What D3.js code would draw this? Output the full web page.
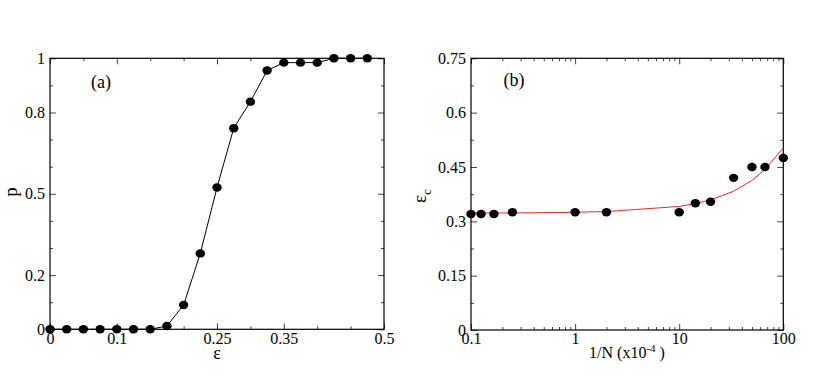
<!DOCTYPE html>
<html>
<head>
<meta charset="utf-8">
<script src="https://cdn.jsdelivr.net/npm/d3@7.9.0/dist/d3.min.js"></script>
<style>
  body { margin: 0; background: #fff; }
  svg { display: block; }
  .tick line { stroke: #444; }
</style>
</head>
<body>
<svg id="chart" width="830" height="388" font-family="'Liberation Serif', 'Times New Roman', Times, serif"></svg>
<script>
// panel (a): probability p vs epsilon
const epsA = [0, 0.025, 0.05, 0.075, 0.1, 0.125, 0.15, 0.175, 0.2, 0.225,
              0.25, 0.275, 0.3, 0.325, 0.35, 0.375, 0.4, 0.425, 0.45, 0.475];
const pA = [0, 0, 0, 0, 0, 0, 0, 0.012, 0.09, 0.28,
            0.523, 0.742, 0.84, 0.955, 0.984, 0.984, 0.984, 1, 1, 1];
const xTicksA = [0, 0.1, 0.25, 0.35, 0.5];
const xMinorA = [0.05, 0.15, 0.2, 0.3, 0.4, 0.45];
const yTicksA = [0, 0.2, 0.5, 0.8, 1];
const yMinorA = [0.1, 0.3, 0.4, 0.6, 0.7, 0.9];

// panel (b): critical epsilon vs 1/N (x10^-4)
const invN = [0.1, 0.125, 0.166, 0.25, 1, 2, 10, 14.3, 20, 33.3, 50, 66.7, 100];
const epsC = [0.32, 0.32, 0.32, 0.325, 0.325, 0.325, 0.325, 0.35, 0.354, 0.42, 0.45, 0.45, 0.475];
const fitC = [0.323, 0.323, 0.323, 0.323, 0.325, 0.327, 0.341, 0.349, 0.359, 0.383, 0.413, 0.443, 0.503];
const xTicksB = [0.1, 1, 10, 100];
const xMinorB = [0.2, 0.3, 0.4, 0.5, 0.6, 0.7, 0.8, 0.9, 2, 3, 4, 5, 6, 7, 8, 9, 20, 30, 40, 50, 60, 70, 80, 90];
const yTicksB = [0, 0.15, 0.3, 0.45, 0.6, 0.75];
const yMinorB = [0.075, 0.225, 0.375, 0.525, 0.675];

const SERIF = "'Liberation Serif', 'Times New Roman', Times, serif";
const svg = d3.select('#chart');

function frame(g, x, y, opts) {
  const [x0, x1] = x.range();
  const [y0, y1] = y.range();
  const fmt = d => String(d);

  // major ticks with labels, bottom / left
  g.append('g')
    .attr('transform', `translate(0,${y0})`)
    .call(d3.axisBottom(x).tickValues(opts.xTicks).tickSize(-6).tickPadding(3).tickFormat(fmt))
    .call(a => a.select('.domain').remove())
    .call(a => a.attr('font-family', SERIF).attr('font-size', 16));
  g.append('g')
    .attr('transform', `translate(${x0},0)`)
    .call(d3.axisLeft(y).tickValues(opts.yTicks).tickSize(-6).tickPadding(5).tickFormat(fmt))
    .call(a => a.select('.domain').remove())
    .call(a => a.attr('font-family', SERIF).attr('font-size', 16));

  // minor ticks and mirrored ticks on top / right
  const add = (axis, tx, ty) => g.append('g')
    .attr('transform', `translate(${tx},${ty})`)
    .call(axis.tickFormat(''))
    .call(a => a.select('.domain').remove());
  add(d3.axisBottom(x).tickValues(opts.xMinor).tickSize(-3), 0, y0);
  add(d3.axisLeft(y).tickValues(opts.yMinor).tickSize(-3), x0, 0);
  add(d3.axisTop(x).tickValues(opts.xTicks).tickSize(-6), 0, y1);
  add(d3.axisTop(x).tickValues(opts.xMinor).tickSize(-3), 0, y1);
  add(d3.axisRight(y).tickValues(opts.yTicks).tickSize(-6), x1, 0);
  add(d3.axisRight(y).tickValues(opts.yMinor).tickSize(-3), x1, 0);

  g.append('rect')
    .attr('x', x0).attr('y', y1)
    .attr('width', x1 - x0).attr('height', y0 - y1)
    .attr('fill', 'none').attr('stroke', '#000').attr('stroke-width', 1.2);
}

// ---- panel (a)
const xA = d3.scaleLinear().domain([0, 0.5]).range([50, 384]);
const yA = d3.scaleLinear().domain([0, 1]).range([329.3, 58.3]);
const gA = svg.append('g');
frame(gA, xA, yA, { xTicks: xTicksA, xMinor: xMinorA, yTicks: yTicksA, yMinor: yMinorA });

const ptsA = epsA.map((e, i) => [e, pA[i]]);
gA.append('path')
  .datum(ptsA)
  .attr('fill', 'none').attr('stroke', '#000').attr('stroke-width', 1)
  .attr('d', d3.line().x(d => xA(d[0])).y(d => yA(d[1])));
gA.append('g').selectAll('ellipse')
  .data(ptsA)
  .join('ellipse')
  .attr('cx', d => xA(d[0])).attr('cy', d => yA(d[1]))
  .attr('rx', 4.7).attr('ry', 4.2).attr('fill', '#000');

gA.append('text').attr('x', 101).attr('y', 88).attr('text-anchor', 'middle')
  .attr('font-size', 18).text('(a)');
gA.append('text').attr('x', 217).attr('y', 359).attr('text-anchor', 'middle')
  .attr('font-size', 18).text('ε');
gA.append('text').attr('transform', 'translate(17,192) rotate(-90)')
  .attr('text-anchor', 'middle').attr('font-size', 19).text('p');

// ---- panel (b)
const xB = d3.scaleLog().domain([0.1, 100]).range([471, 783.3]);
const yB = d3.scaleLinear().domain([0, 0.75]).range([330, 58.3]);
const gB = svg.append('g');
frame(gB, xB, yB, { xTicks: xTicksB, xMinor: xMinorB, yTicks: yTicksB, yMinor: yMinorB });

gB.append('path')
  .datum(invN.map((v, i) => [v, fitC[i]]))
  .attr('fill', 'none').attr('stroke', '#ff2020').attr('stroke-width', 1)
  .attr('d', d3.line().x(d => xB(d[0])).y(d => yB(d[1])));
gB.append('g').selectAll('ellipse')
  .data(invN.map((v, i) => [v, epsC[i]]))
  .join('ellipse')
  .attr('cx', d => xB(d[0])).attr('cy', d => yB(d[1]))
  .attr('rx', 4.7).attr('ry', 4.2).attr('fill', '#000');

gB.append('text').attr('x', 514).attr('y', 86).attr('text-anchor', 'middle')
  .attr('font-size', 18).text('(b)');

const lbl = gB.append('text').attr('x', 627).attr('y', 358).attr('text-anchor', 'middle')
  .attr('font-size', 16);
lbl.append('tspan').text('1/N (x10');
lbl.append('tspan').attr('dy', -6).attr('font-size', 11).text('-4');
lbl.append('tspan').attr('dy', 6).text(' )');

const yl = gB.append('text').attr('transform', 'translate(426,196) rotate(-90)')
  .attr('text-anchor', 'middle').attr('font-size', 19);
yl.append('tspan').text('ε');
yl.append('tspan').attr('dy', 5).attr('font-size', 13).text('c');
</script>
</body>
</html>
